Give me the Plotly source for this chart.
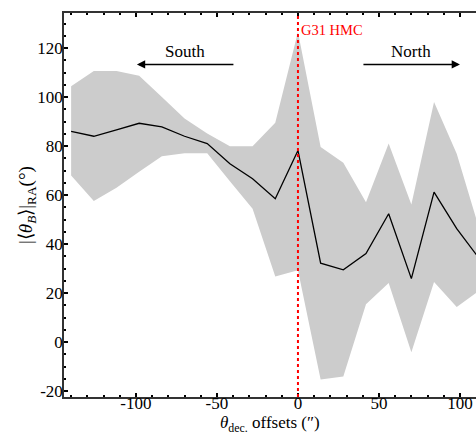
import plotly.graph_objects as go

# Data
offsets = [-140, -126, -112, -98, -84, -70, -56, -42, -28, -14, 0, 14, 28, 42, 56, 70, 84, 98, 112]
mean_theta = [86, 84, 86.6, 89.3, 87.8, 84, 81, 72.8, 66.7, 58.5, 78.2, 32.2, 29.5, 36.1, 52.4, 25.9, 61.2, 46.3, 34]
upper_theta = [104.4, 110.6, 110.6, 108.7, 100, 91.2, 85.1, 79.9, 79.9, 89.5, 126.5, 79.6, 73.2, 57.1, 81, 56.2, 98, 76.9, 46]
lower_theta = [68, 57.6, 63, 69.5, 75.8, 77.1, 77.1, 65.6, 54.4, 26.8, 29.3, -15.3, -14, 15.4, 24.1, -4.1, 24.5, 14.3, 21]

x_ticks = [-100, -50, 0, 50, 100]
x_tick_labels = ["-100", "-50", "0", "50", "100"]
y_ticks = [-20, 0, 20, 40, 60, 80, 100, 120]
y_tick_labels = ["-20", "0", "20", "40", "60", "80", "100", "120"]

FONT = "Liberation Serif"

fig = go.Figure()
fig.add_trace(go.Scatter(
    x=offsets + offsets[::-1],
    y=upper_theta + lower_theta[::-1],
    fill="toself", fillcolor="#cccccc",
    line=dict(width=0), mode="lines", hoverinfo="skip", showlegend=False))
fig.add_trace(go.Scatter(
    x=offsets, y=mean_theta, mode="lines",
    line=dict(color="black", width=1.3), showlegend=False))

fig.add_shape(type="line", x0=0, x1=0, xref="x", y0=0, y1=1, yref="paper",
              line=dict(color="red", width=2, dash="dot"))

# arrows
fig.add_annotation(x=-99.4, y=113.3, ax=-38.9, ay=113.3, xref="x", yref="y",
                   axref="x", ayref="y", text="", showarrow=True,
                   arrowhead=2, arrowsize=1.1, arrowwidth=1.5, arrowcolor="black")
fig.add_annotation(x=100, y=113.3, ax=39.5, ay=113.3, xref="x", yref="y",
                   axref="x", ayref="y", text="", showarrow=True,
                   arrowhead=2, arrowsize=1.1, arrowwidth=1.5, arrowcolor="black")
fig.add_annotation(x=-69.6, y=118.5, xref="x", yref="y", text="South", showarrow=False,
                   font=dict(family=FONT, size=17, color="black"))
fig.add_annotation(x=69.9, y=118.5, xref="x", yref="y", text="North", showarrow=False,
                   font=dict(family=FONT, size=17, color="black"))
fig.add_annotation(x=0.5, y=127.2, xref="x", yref="y", text="G31 HMC", showarrow=False,
                   xanchor="left", font=dict(family=FONT, size=14.5, color="red"))

# axis titles
fig.add_annotation(
    x=(270 - 64) / 412, y=-(424 - 397) / 384, xref="paper", yref="paper",
    text="<i>θ</i><sub>dec.</sub> offsets (″)", showarrow=False,
    font=dict(family=FONT, size=17, color="black"), yanchor="middle")
fig.add_annotation(
    x=-(64 - 27) / 412, y=(397 - 205) / 384, xref="paper", yref="paper",
    text="|⟨<i>θ</i><sub><i>B</i></sub>⟩|<sub>RA</sub>(°)", showarrow=False,
    textangle=-90, font=dict(family=FONT, size=19, color="black"),
    xanchor="center", yanchor="middle")

fig.update_layout(
    width=476, height=434,
    margin=dict(l=64, r=0, t=13, b=37),
    paper_bgcolor="white", plot_bgcolor="white",
    font=dict(family=FONT, size=17, color="black"),
    xaxis=dict(range=[-144.4, 109.9], tickvals=x_ticks, ticktext=x_tick_labels,
               ticks="inside", ticklen=4,
               tickwidth=1.5, tickcolor="black", showline=True, linecolor="#333333",
               linewidth=1.5, mirror="allticks", showgrid=False, zeroline=False,
               ticklabelstandoff=-10,
               minor=dict(dtick=10, ticks="inside", ticklen=2, tickwidth=1.5, tickcolor="black")),
    yaxis=dict(range=[-22.4, 134.3], tickvals=y_ticks, ticktext=y_tick_labels,
               ticks="inside", ticklen=4,
               tickwidth=1.5, tickcolor="black", showline=True, linecolor="#333333",
               linewidth=1.5, mirror=False, showgrid=False, zeroline=False,
               ticklabelstandoff=-4,
               minor=dict(dtick=5, ticks="inside", ticklen=2, tickwidth=1.5, tickcolor="black")),
)

fig.write_html("out.html")
